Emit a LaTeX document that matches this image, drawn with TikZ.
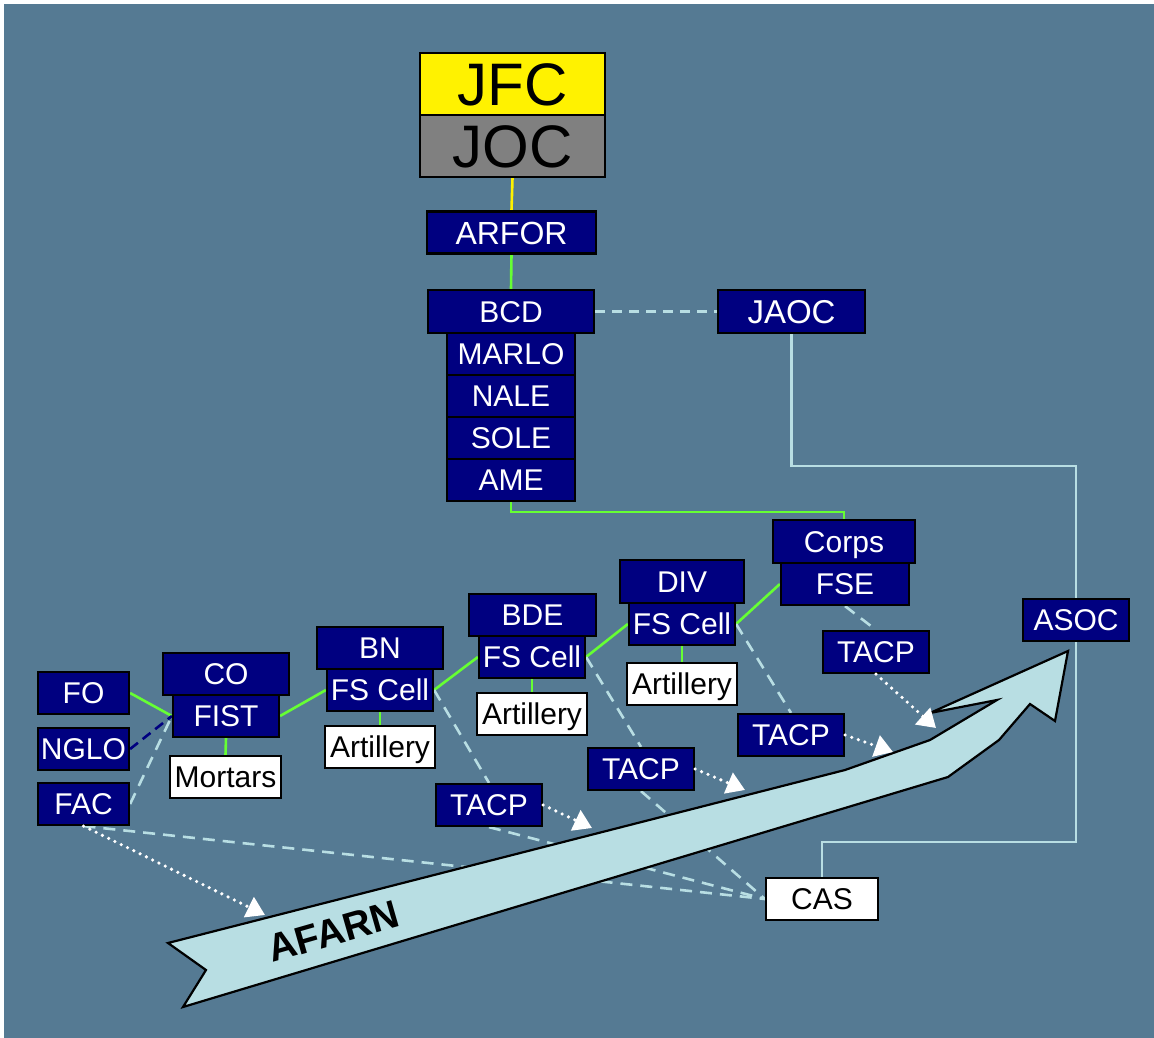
\documentclass[tikz,border=0pt]{standalone}
\usepackage{fontspec}
\setmainfont{Liberation Sans}
\usetikzlibrary{arrows.meta}
\definecolor{bgc}{RGB}{85,122,147}
\definecolor{navyc}{RGB}{0,0,128}
\definecolor{lbc}{RGB}{184,222,227}
\definecolor{grc}{RGB}{102,255,51}
\definecolor{grayc}{RGB}{128,128,128}
\pgfdeclarelayer{bglayer}
\pgfdeclarelayer{lines}
\pgfdeclarelayer{arrowl}
\pgfsetlayers{bglayer,lines,arrowl,main}
\tikzset{
  bx/.style={draw=black, line width=2.2pt, fill=navyc, text=white, inner sep=0pt,
    font=\fontsize{30}{36}\selectfont, text height=21.5pt, text depth=0pt,
    minimum height=42pt},
  wbx/.style={bx, fill=white, text=black},
  big/.style={draw=black, line width=2.2pt, inner sep=0pt, text=black,
    font=\fontsize{60}{70}\selectfont, text height=43pt, text depth=0pt,
    minimum height=62pt, minimum width=185pt},
  grn/.style={draw=grc, line width=2.6pt},
  ylw/.style={draw=yellow, line width=2.6pt},
  dsh/.style={draw=lbc, line width=2.6pt, dash pattern=on 12pt off 8pt},
  ndsh/.style={draw=navyc, line width=2.6pt, dash pattern=on 10pt off 6pt},
  lbl/.style={draw=lbc, line width=2.6pt},
  dotar/.style={draw=white, line width=3.6pt, line cap=round, dash pattern=on 0pt off 7pt,
    -{Triangle[length=18pt,width=22pt,fill=white]}},
  arrowshape/.style={draw=black, line width=2.2pt, fill=lbc, line join=miter}
}
\begin{document}
\begin{tikzpicture}[x=1pt,y=-1pt]
\useasboundingbox (0,0) rectangle (1154,1038);
\begin{pgfonlayer}{bglayer}
\fill[white] (0,0) rectangle (1154,1038);
\fill[bgc] (4,4) rectangle (1154,1038);
\end{pgfonlayer}

% top
\node[big, fill=yellow] (jfc) at (512.5,84) {JFC};
\node[big, fill=grayc] (joc) at (512.5,146) {JOC};
\node[bx, minimum width=169pt, font=\fontsize{32}{38}\selectfont, text height=23pt] (arfor) at (511.5,232.5) {ARFOR};
\node[bx, minimum width=166pt, minimum height=43pt] (bcd) at (511,311.5) {BCD};
\node[bx, minimum width=128pt] (marlo) at (511,354) {MARLO};
\node[bx, minimum width=128pt] (nale) at (511,396) {NALE};
\node[bx, minimum width=128pt] (sole) at (511,438) {SOLE};
\node[bx, minimum width=128pt] (ame) at (511,480) {AME};
\node[bx, minimum width=147pt, minimum height=43pt, font=\fontsize{33}{38}\selectfont, text height=23.6pt] (jaoc) at (791.5,311.5) {JAOC};

% echelons
\node[bx, minimum width=142pt, minimum height=43pt] (corps) at (844,541.5) {Corps};
\node[bx, minimum width=128pt] (fse) at (845,584) {FSE};
\node[bx, minimum width=124pt, minimum height=43pt] (div) at (682,581.5) {DIV};
\node[bx, minimum width=106pt] (divfs) at (682,624) {FS Cell};
\node[wbx, minimum width=110pt] (divart) at (682,684) {Artillery};
\node[bx, minimum width=127pt] (bde) at (532.5,615) {BDE};
\node[bx, minimum width=106pt] (bdefs) at (532,657) {FS Cell};
\node[wbx, minimum width=110pt] (bdeart) at (532,714) {Artillery};
\node[bx, minimum width=126pt] (bn) at (380,648) {BN};
\node[bx, minimum width=106pt] (bnfs) at (380,690) {FS Cell};
\node[wbx, minimum width=110pt] (bnart) at (380,747) {Artillery};
\node[bx, minimum width=126pt] (co) at (226,674) {CO};
\node[bx, minimum width=106pt] (fist) at (226,716) {FIST};
\node[wbx, minimum width=111pt] (mortars) at (225.5,777) {Mortars};
\node[bx, minimum width=91pt] (fo) at (83.5,693) {FO};
\node[bx, minimum width=91pt] (nglo) at (83.5,749) {NGLO};
\node[bx, minimum width=91pt] (fac) at (83.5,804) {FAC};

% TACPs
\node[bx, minimum width=106pt] (tacp4) at (876,652) {TACP};
\node[bx, minimum width=106pt] (tacp3) at (791,735) {TACP};
\node[bx, minimum width=106pt] (tacp2) at (641,769) {TACP};
\node[bx, minimum width=106pt] (tacp1) at (489,805) {TACP};
\node[bx, minimum width=106pt] (asoc) at (1076,620) {ASOC};
\node[wbx, minimum width=112pt] (cas) at (822,899) {CAS};

\coordinate (j1) at (1076,466);
\coordinate (j2) at (1076,842);
\coordinate (e1) at (592,828);
\coordinate (e2) at (745,790);
\coordinate (e3) at (893,752);
\coordinate (e4) at (936,728);
\coordinate (e5) at (265,915);

\begin{pgfonlayer}{lines}
\draw[ylw] (joc.south) -- (arfor.north);
\draw[grn] (arfor.south) -- (bcd.north);
\draw[dsh, dash pattern=on 10pt off 7pt] (bcd.east) -- (jaoc.west);
\draw[lbl] (jaoc.south) |- (j1) -- (j2) -| (cas.north);
\draw[grn] (ame.south) -- ++(0,10) -| (corps.north);
\draw[grn] (fo.east) -- (fist.west);
\draw[ndsh] (nglo.east) -- (fist.west);
\draw[dsh] (fac.east) -- (fist.west);
\draw[grn] (fist.east) -- (bnfs.west);
\draw[grn] (bnfs.east) -- (bdefs.west);
\draw[grn] (bdefs.east) -- (divfs.west);
\draw[grn] (divfs.east) -- (fse.west);
\draw[grn] (fist.south) -- (mortars.north);
\draw[grn] (bnfs.south) -- (bnart.north);
\draw[grn] (bdefs.south) -- (bdeart.north);
\draw[grn] (divfs.south) -- (divart.north);
\draw[dsh] (bnfs.east) -- (tacp1.north);
\draw[dsh] (bdefs.east) -- (tacp2.north);
\draw[dsh] (divfs.east) -- (tacp3.north);
\draw[dsh] (fse.south) -- (tacp4.north);
\draw[dsh] (fac.south) -- (cas.west);
\draw[dsh] (tacp1.south) -- (cas.west);
\draw[dsh] (tacp2.south) -- (cas.west);
\end{pgfonlayer}

\begin{pgfonlayer}{arrowl}
\draw[arrowshape] (168,943) -- (845,770) -- (930,740) -- (997,700) -- (930,713)
  -- (1068,651) -- (1055,721) -- (1030,704) -- (999,740) -- (948,777)
  -- (183,1007) -- (206,970) -- cycle;
\end{pgfonlayer}

\node[font=\fontsize{39}{44}\selectfont\bfseries, text=black, rotate=16, inner sep=0pt,
  text height=28pt, text depth=0pt] (afarn) at (333,931) {AFARN};

\draw[dotar] (tacp1.east) -- (e1);
\draw[dotar] (tacp2.east) -- (e2);
\draw[dotar] (tacp3.east) -- (e3);
\draw[dotar] (tacp4.south) -- (e4);
\draw[dotar] (fac.south) -- (e5);
\end{tikzpicture}
\end{document}
